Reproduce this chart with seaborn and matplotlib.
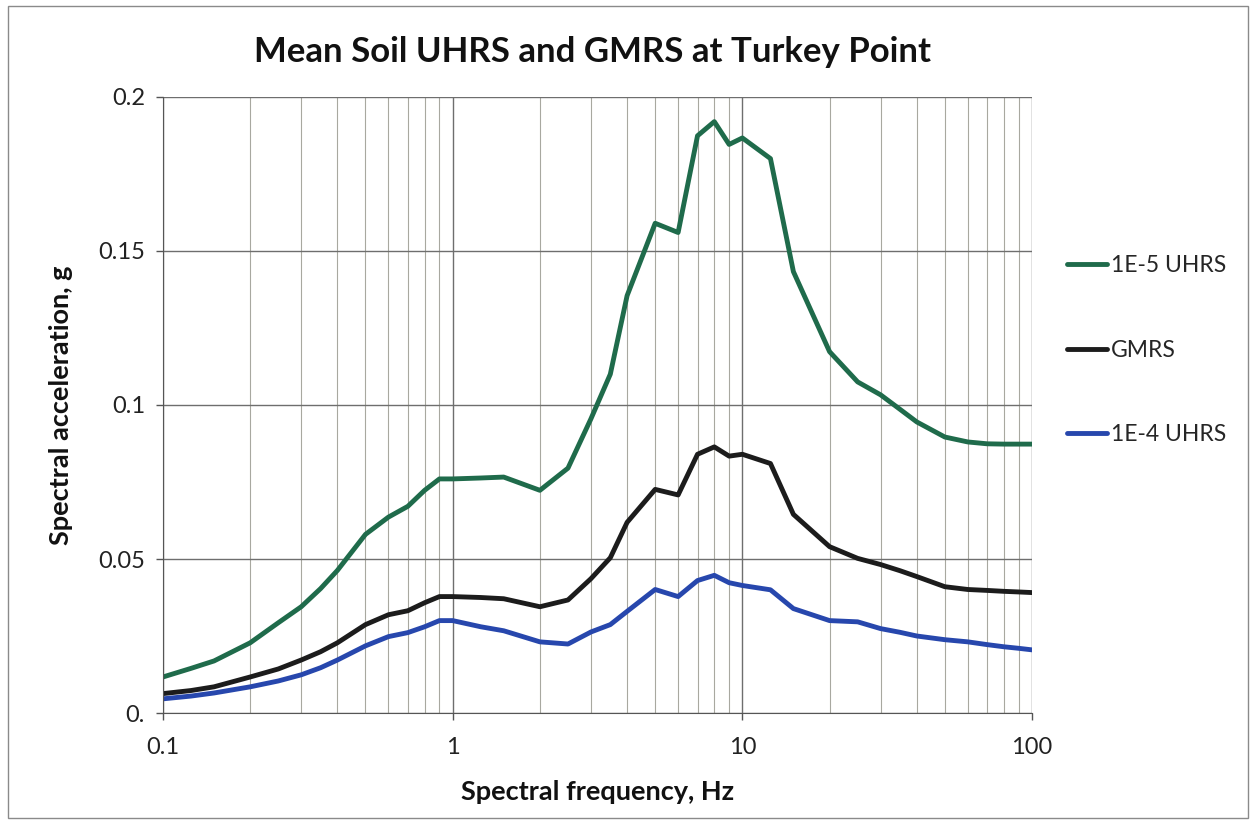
import numpy as np
import pandas as pd
import matplotlib
matplotlib.use("Agg")
import matplotlib.pyplot as plt
import matplotlib.ticker as mticker
from matplotlib.patches import Rectangle
import seaborn as sns

# Data

freq = [0.1, 0.125, 0.15, 0.2, 0.25, 0.3, 0.35, 0.4, 0.5, 0.6, 0.7, 0.8, 0.9,
        1, 1.25, 1.5, 2, 2.5, 3, 3.5, 4, 5, 6, 7, 8, 9, 10, 12.5, 15, 20,
        25, 30, 35, 40, 50, 60, 70, 80, 90, 100]

uhrs_1e5 = [0.0117, 0.0145, 0.0169, 0.0228, 0.0293, 0.0345, 0.0404, 0.0463,
            0.0580, 0.0636, 0.0671, 0.0723, 0.0760, 0.0760, 0.0763, 0.0766,
            0.0723, 0.0795, 0.0955, 0.1100, 0.1355, 0.1590, 0.1560, 0.1874,
            0.1920, 0.1846, 0.1867, 0.1800, 0.1433, 0.1173, 0.1075, 0.1033,
            0.0986, 0.0945, 0.0896, 0.0880, 0.0874, 0.0873, 0.0873, 0.0873]

gmrs = [0.0063, 0.0073, 0.0085, 0.0117, 0.0143, 0.0172, 0.0199, 0.0228,
        0.0287, 0.0319, 0.0332, 0.0358, 0.0378, 0.0378, 0.0375, 0.0371,
        0.0345, 0.0367, 0.0436, 0.0504, 0.0619, 0.0726, 0.0708, 0.0840,
        0.0864, 0.0834, 0.0840, 0.0810, 0.0645, 0.0540, 0.0502, 0.0482,
        0.0462, 0.0443, 0.0410, 0.0401, 0.0398, 0.0395, 0.0393, 0.0391]

uhrs_1e4 = [0.0046, 0.0055, 0.0065, 0.0085, 0.0104, 0.0124, 0.0147, 0.0172,
            0.0218, 0.0248, 0.0261, 0.0280, 0.0300, 0.0300, 0.0280, 0.0267,
            0.0231, 0.0224, 0.0263, 0.0287, 0.0330, 0.0401, 0.0378, 0.0430,
            0.0447, 0.0423, 0.0414, 0.0400, 0.0339, 0.0300, 0.0296, 0.0274,
            0.0262, 0.0250, 0.0238, 0.0231, 0.0222, 0.0215, 0.0210, 0.0205]

series_names = ["1E-5 UHRS", "GMRS", "1E-4 UHRS"]
series_colors = ["#1f6b4b", "#1c1c1c", "#2747ad"]

yticks = [0, 0.05, 0.1, 0.15, 0.2]
ytick_labels = ["0.", "0.05", "0.1", "0.15", "0.2"]
xticks = [0.1, 1, 10, 100]
xtick_labels = ["0.1", "1", "10", "100"]

df = pd.DataFrame({
    "freq": freq * 3,
    "sa": uhrs_1e5 + gmrs + uhrs_1e4,
    "series": np.repeat(series_names, len(freq)),
})

# Plot

sns.set_style("white")
plt.rcParams["font.family"] = ["Lato", "DejaVu Sans"]

fig = plt.figure(figsize=(12.51, 8.24), dpi=100)
ax = fig.add_axes([0.1303, 0.1347, 0.6947, 0.7476])

sns.lineplot(
    data=df,
    x="freq",
    y="sa",
    hue="series",
    hue_order=series_names,
    palette=series_colors,
    linewidth=3.5,
    ax=ax,
)

ax.set_xscale("log")
ax.set_xlim(0.1, 100)
ax.set_ylim(0, 0.2)

ax.xaxis.set_major_locator(mticker.FixedLocator(xticks))
ax.xaxis.set_major_formatter(mticker.FixedFormatter(xtick_labels))
ax.xaxis.set_minor_locator(mticker.LogLocator(base=10, subs=np.arange(2, 10)))
ax.xaxis.set_minor_formatter(mticker.NullFormatter())
ax.yaxis.set_major_locator(mticker.FixedLocator(yticks))
ax.yaxis.set_major_formatter(mticker.FixedFormatter(ytick_labels))

ax.grid(which="major", axis="both", color="#6e6e6e", linewidth=1.0)
ax.grid(which="minor", axis="x", color="#a8a8a0", linewidth=0.8)
ax.set_axisbelow(True)

for side in ["top", "right"]:
    ax.spines[side].set_visible(False)
ax.spines["left"].set_color("#555555")
ax.spines["bottom"].set_color("#555555")

ax.tick_params(axis="both", which="major", direction="out", length=5,
               width=1, color="#555555", labelsize=17, labelcolor="#222222",
               bottom=True, left=True)
ax.tick_params(axis="x", which="major", pad=12)
ax.tick_params(axis="y", which="major", pad=8)
ax.tick_params(axis="x", which="minor", length=0)

ax.set_xlabel("Spectral frequency, Hz", fontsize=19.5, fontweight="bold",
              labelpad=16, color="#111111")
ax.set_ylabel("Spectral acceleration, g", fontsize=19.5, fontweight="bold",
              labelpad=18, color="#111111")

fig.text(0.474, 0.937, "Mean Soil UHRS and GMRS at Turkey Point",
         ha="center", va="center", fontsize=25, fontweight="bold",
         color="#111111")

ax.legend(
    loc="upper left",
    bbox_to_anchor=(1.03, 0.758),
    frameon=False,
    fontsize=16.5,
    handlelength=1.75,
    handletextpad=0.15,
    labelspacing=2.77,
    borderaxespad=0,
)

fig.patches.append(Rectangle((0.006, 0.007), 0.992, 0.986,
                             transform=fig.transFigure, fill=False,
                             edgecolor="#8a8a8a", linewidth=1.0))

plt.savefig("out.png", dpi=100)
